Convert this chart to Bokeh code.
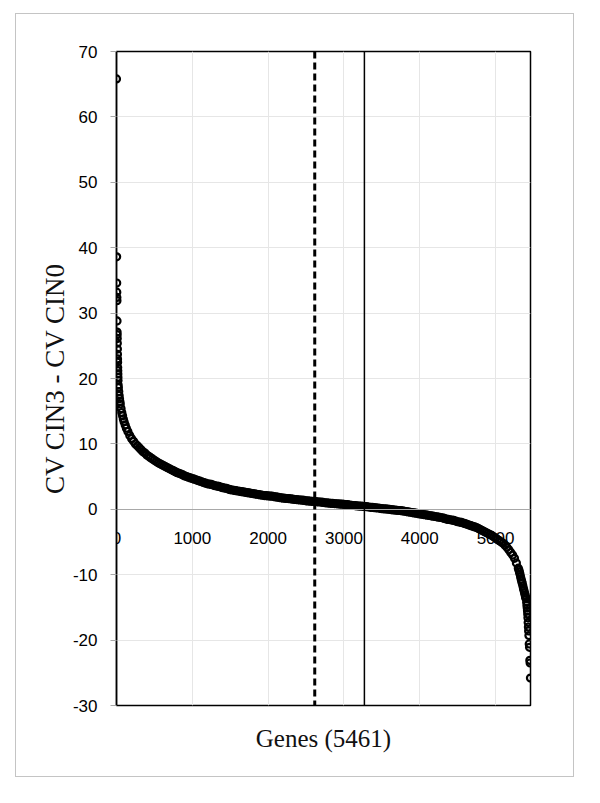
from bokeh.plotting import figure
from bokeh.models import Range1d, FixedTicker, Span, Title, PrintfTickFormatter, Spacer
from bokeh.layouts import column, row
from bokeh.embed import file_html
from bokeh.resources import INLINE

# ---- data (rank of gene, CV CIN3 - CV CIN0) ----
top_ranks = [0, 2, 3, 4, 5, 6, 7, 8, 9, 10, 11, 12, 13, 14, 15, 16, 17, 18, 19, 20, 22]
top_values = [65.8, 38.6, 34.6, 33.2, 32.4, 31.9, 28.8, 27.1, 26.7, 26.1, 25.4, 24.5,
              23.7, 23.0, 22.5, 21.7, 21.2, 20.7, 20.2, 19.7, 19.0]

head_ranks = [25, 30, 35, 40, 45, 50, 60, 70, 80, 90, 100, 115, 130, 150, 175, 200,
              225, 250, 275, 300, 325, 350, 375, 400, 425, 450, 475]
head_values = [18.6, 18.0, 17.4, 16.9, 16.5, 16.1, 15.4, 14.8, 14.3, 13.8, 13.4, 12.9,
               12.4, 11.9, 11.3, 10.8, 10.4, 10.0, 9.7, 9.4, 9.1, 8.8, 8.6, 8.3, 8.1,
               7.9, 7.7]

mid_ranks = list(range(500, 5301, 25))
mid_values = [
    7.5, 7.3, 7.1, 6.95, 6.8, 6.65, 6.5, 6.35, 6.2, 6.05, 5.9, 5.75, 5.6, 5.5, 5.4, 5.25, 5.1, 5.0, 4.9, 4.8,
    4.7, 4.6, 4.5, 4.4, 4.3, 4.2, 4.1, 4.0, 3.9, 3.85, 3.8, 3.7, 3.6, 3.55, 3.5, 3.4, 3.3, 3.25, 3.2, 3.1,
    3.0, 2.95, 2.9, 2.85, 2.8, 2.75, 2.7, 2.65, 2.6, 2.55, 2.5, 2.45, 2.4, 2.35, 2.3, 2.25, 2.2, 2.15, 2.1, 2.08,
    2.05, 2.02, 2.0, 1.95, 1.9, 1.85, 1.8, 1.75, 1.7, 1.68, 1.65, 1.62, 1.6, 1.55, 1.5, 1.48, 1.45, 1.42, 1.4, 1.35,
    1.3, 1.28, 1.25, 1.22, 1.2, 1.18, 1.15, 1.12, 1.1, 1.05, 1.0, 0.98, 0.95, 0.92, 0.9, 0.88, 0.85, 0.82, 0.8, 0.78,
    0.75, 0.72, 0.7, 0.65, 0.6, 0.58, 0.55, 0.52, 0.5, 0.48, 0.45, 0.42, 0.4, 0.35, 0.3, 0.28, 0.25, 0.22, 0.2, 0.15,
    0.1, 0.08, 0.05, 0.02, 0.0, -0.05, -0.1, -0.12, -0.15, -0.18, -0.2, -0.25, -0.3, -0.35, -0.4, -0.45, -0.5, -0.55, -0.6, -0.65,
    -0.7, -0.75, -0.8, -0.85, -0.9, -0.95, -1.0, -1.05, -1.1, -1.15, -1.2, -1.25, -1.3, -1.4, -1.5, -1.55, -1.6, -1.65, -1.7, -1.8,
    -1.9, -1.95, -2.0, -2.1, -2.2, -2.3, -2.4, -2.5, -2.6, -2.7, -2.8, -2.95, -3.1, -3.25, -3.4, -3.55, -3.7, -3.85, -4.0, -4.2,
    -4.4, -4.6, -4.8, -5.0, -5.2, -5.5, -5.8, -6.2, -6.6, -7.0, -7.5, -8.2, -9.0,
]

tail_ranks = [5308, 5315, 5322, 5330, 5338, 5345, 5352, 5360, 5368, 5375, 5383, 5390, 5395, 5400]
tail_values = [-9.3, -9.6, -9.9, -10.3, -10.7, -11.0, -11.3, -11.7, -12.1, -12.4, -12.8,
               -13.1, -13.4, -13.6]

bottom_ranks = [5410, 5414, 5418, 5421, 5424, 5427, 5430, 5433, 5436, 5440, 5444,
                5448, 5452, 5456, 5460]
bottom_values = [-14.2, -14.7, -15.1, -15.5, -16.0, -16.6, -17.3, -18.0, -18.6, -19.3,
                 -20.6, -21.1, -23.1, -23.5, -25.8]

genes_rank = top_ranks + head_ranks + mid_ranks + tail_ranks + bottom_ranks
cv_diff = top_values + head_values + mid_values + tail_values + bottom_values
assert len(genes_rank) == len(cv_diff)

x_ticks = [0, 1000, 2000, 3000, 4000, 5000]
y_ticks = [-30, -20, -10, 0, 10, 20, 30, 40, 50, 60, 70]
x_max = 5461
dashed_line_at = 2615
solid_line_at = 3270

x_title = "Genes (5461)"
y_title = "CV CIN3 - CV CIN0"

SANS = "Liberation Sans"
SERIF = "Liberation Serif"

p = figure(width=559, height=764,
           x_range=Range1d(0, x_max), y_range=Range1d(-30, 70),
           output_backend="svg", toolbar_location=None,
           min_border_left=100, min_border_right=45,
           min_border_top=37, min_border_bottom=73)
p.styles = {"border": "1px solid #c4c4c4"}
p.background_fill_color = "white"
p.border_fill_color = "white"
p.outline_line_color = "black"
p.outline_line_width = 1.5

# grid
p.xgrid.ticker = FixedTicker(ticks=x_ticks)
p.ygrid.ticker = FixedTicker(ticks=y_ticks)
p.grid.grid_line_color = "#e6e6e6"
p.grid.grid_line_width = 1

# x axis sitting at y = 0
xa = p.xaxis[0]
xa.ticker = FixedTicker(ticks=x_ticks)
xa.formatter = PrintfTickFormatter(format="%d")
xa.fixed_location = 0
xa.axis_line_color = "#a8a8a8"
xa.axis_line_width = 1.2
xa.major_tick_line_color = None
xa.minor_tick_line_color = None
xa.major_tick_out = 0
xa.major_tick_in = 0
xa.major_label_standoff = 23
xa.major_label_text_font = SANS
xa.major_label_text_font_size = "17px"
xa.major_label_text_color = "black"

# y axis
ya = p.yaxis[0]
ya.ticker = FixedTicker(ticks=y_ticks)
ya.formatter = PrintfTickFormatter(format="%d")
ya.axis_line_color = "black"
ya.axis_line_width = 1.5
ya.major_tick_line_color = "#a8a8a8"
ya.major_tick_out = 6
ya.major_tick_in = 0
ya.minor_tick_line_color = None
ya.major_label_standoff = 13
ya.major_label_text_font = SANS
ya.major_label_text_font_size = "17px"
ya.major_label_text_color = "black"
ya.axis_label = y_title
ya.axis_label_text_font = SERIF
ya.axis_label_text_font_size = "27px"
ya.axis_label_text_font_style = "normal"
ya.axis_label_text_color = "#111111"
ya.axis_label_standoff = 0

p.add_layout(Title(text=x_title, align="center", text_font=SERIF,
                   text_font_size="25px", text_font_style="normal",
                   text_color="#111111", standoff=35), "below")

# vertical reference lines
p.add_layout(Span(location=dashed_line_at, dimension="height", line_color="black",
                  line_width=3, line_dash="7 4"))
p.add_layout(Span(location=solid_line_at, dimension="height", line_color="black",
                  line_width=1.5))

# data points
p.scatter(genes_rank, cv_diff, marker="circle", size=7, fill_color=None,
          line_color="black", line_width=2.2)

layout = column(Spacer(height=13), row(Spacer(width=15), p))

open("out.html", "w").write(file_html(layout, INLINE))
